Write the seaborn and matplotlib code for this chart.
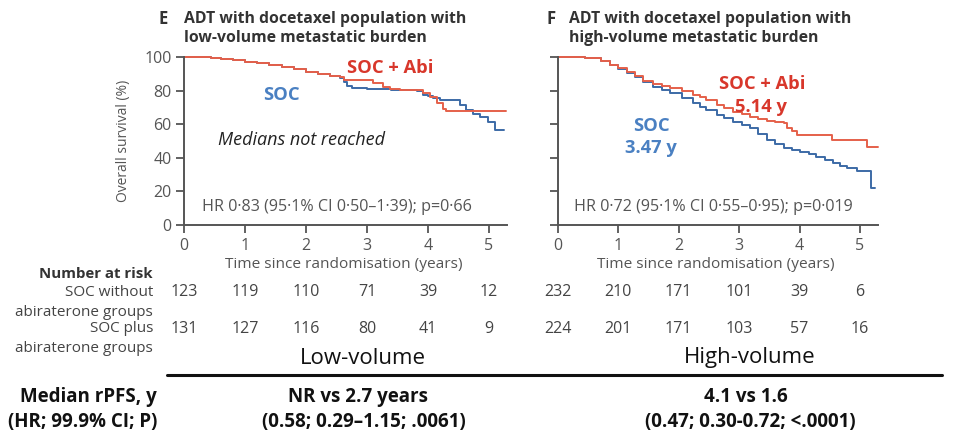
import numpy as np
import pandas as pd
import matplotlib
matplotlib.use("Agg")
import matplotlib.pyplot as plt
import seaborn as sns

# ---------------- data ----------------
low_soc_t = [0, 0.45, 0.6, 0.8, 1.0, 1.2, 1.4, 1.6, 1.8, 2.0, 2.2, 2.4, 2.55, 2.62, 2.68, 2.75,
             3.0, 3.4, 3.82, 3.92, 4.0, 4.08, 4.2, 4.52, 4.63, 4.74, 4.85, 4.98, 5.1, 5.25]
low_soc_s = [100, 99.4, 98.8, 98, 97.3, 96.3, 95.3, 94.2, 92.6, 91.2, 90, 88.8, 87.5, 85, 83, 81.4,
             80.8, 80.3, 80, 77.4, 76.5, 75.4, 74.6, 71.4, 68.5, 66, 64.5, 61.5, 56.5, 56.5]
low_abi_t = [0, 0.45, 0.6, 0.8, 1.0, 1.2, 1.4, 1.6, 1.8, 2.0, 2.2, 2.4, 2.55, 2.62, 3.1, 3.27,
             3.37, 3.54, 3.92, 4.03, 4.14, 4.25, 4.3, 5.28]
low_abi_s = [100, 99.5, 98.9, 98.1, 97.2, 96.2, 95.4, 94.0, 92.8, 91.0, 89.8, 88.6, 87.8, 86.5, 84.7, 82.3,
             80.8, 80.5, 78.8, 76.4, 72.8, 68.8, 68, 68]

high_soc_t = [0, 0.3, 0.45, 0.58, 0.72, 0.87, 1.0, 1.14, 1.28, 1.41, 1.58, 1.72, 1.86, 2.05, 2.24, 2.35,
              2.46, 2.63, 2.75, 2.9, 3.05, 3.18, 3.32, 3.46, 3.6, 3.74, 3.88, 4.01, 4.15, 4.28, 4.42,
              4.56, 4.67, 4.78, 4.95, 5.18, 5.25]
high_soc_s = [100, 99.8, 99.5, 99.2, 97.5, 95.2, 92.8, 90.3, 87.8, 85.3, 82.1, 80.3, 78.4, 75.5, 72.4, 70.5,
              68.5, 65.5, 63.5, 61.5, 59.5, 57.5, 54, 50.6, 48, 45.6, 44.5, 43.7, 42.2, 40.7, 38.7,
              36.7, 35.2, 33.7, 32.3, 21.8, 21.8]
high_abi_t = [0, 0.3, 0.45, 0.58, 0.72, 0.87, 1.0, 1.14, 1.28, 1.41, 1.58, 1.72, 1.86, 2.05, 2.24, 2.35,
              2.46, 2.63, 2.75, 2.9, 3.05, 3.18, 3.32, 3.46, 3.6, 3.74, 3.79, 3.87, 3.95, 4.53, 5.11, 5.3]
high_abi_s = [100, 99.8, 99.5, 99.2, 97.6, 95.4, 93.2, 90.8, 88.5, 86.0, 84.1, 82.8, 81.3, 79.5, 77.4, 76.2,
              74.4, 71.4, 69.5, 67.5, 66, 64.5, 63.2, 62.1, 61.5, 60.9, 58, 56, 53.6, 50.6, 46.6, 46.6]

risk_years = [0, 1, 2, 3, 4, 5]
low_risk_soc = [123, 119, 110, 71, 39, 12]
low_risk_abi = [131, 127, 116, 80, 41, 9]
high_risk_soc = [232, 210, 171, 101, 39, 6]
high_risk_abi = [224, 201, 171, 103, 57, 16]

y_ticks = [0, 20, 40, 60, 80, 100]
x_ticks = [0, 1, 2, 3, 4, 5]

# ---------------- style ----------------
sns.set_theme(style="ticks")
plt.rcParams["font.family"] = ["Open Sans", "DejaVu Sans"]

RED_LINE = "#e5604a"
BLUE_LINE = "#3c6aa6"
RED_TXT = "#d8372b"
BLUE_TXT = "#4a80c2"
GRAY = "#555555"
DARK = "#333333"

W, H = 962, 438
fig = plt.figure(figsize=(W / 100, H / 100), dpi=100)


def P(x, y):
    return x / W, 1 - y / H


XMAX = 5.3
ax_specs = [
    (184, 61.0),
    (557.7, 60.46),
]

palette = {"SOC": BLUE_LINE, "SOC + Abi": RED_LINE}
panels = [
    (low_soc_t, low_soc_s, low_abi_t, low_abi_s),
    (high_soc_t, high_soc_s, high_abi_t, high_abi_s),
]
axes = []
for i, ((x0, ppy), (st, ss, at, as_)) in enumerate(zip(ax_specs, panels)):
    left, bottom = P(x0, 225)
    width = XMAX * ppy / W
    height = (225 - 57) / H
    ax = fig.add_axes([left, bottom, width, height])
    df = pd.DataFrame({
        "t": list(st) + list(at),
        "s": list(ss) + list(as_),
        "g": ["SOC"] * len(st) + ["SOC + Abi"] * len(at),
    })
    sns.lineplot(data=df, x="t", y="s", hue="g", palette=palette, estimator=None,
                 sort=False, drawstyle="steps-post", linewidth=1.4, legend=False, ax=ax)
    ax.set_xlim(0, XMAX)
    ax.set_ylim(0, 100)
    ax.set_xticks(x_ticks)
    ax.set_yticks(y_ticks)
    ax.set_xlabel("")
    ax.set_ylabel("")
    for sp in ["top", "right"]:
        ax.spines[sp].set_visible(False)
    for sp in ["left", "bottom"]:
        ax.spines[sp].set_color("#555555")
        ax.spines[sp].set_linewidth(1.4)
    ax.tick_params(axis="both", direction="out", length=6, width=1.3, color="#555555",
                   labelcolor=GRAY, labelsize=11.5, pad=3)
    if i == 1:
        ax.tick_params(axis="y", labelleft=False)
    ax.patch.set_alpha(0)
    for line in ax.lines:
        line.set_clip_on(False)
    axes.append(ax)

axL, axR = axes

# y label
fig.text(*P(123, 141), "Overall survival (%)", rotation=90, ha="center", va="center",
         fontsize=10, color=GRAY, family=["Liberation Sans Narrow", "Open Sans", "DejaVu Sans"])

# titles
for letter, lx, tx, line2 in [("E", 159, 184, "low-volume metastatic burden"),
                              ("F", 547, 569, "high-volume metastatic burden")]:
    fig.text(*P(lx, 19), letter, fontsize=12, fontweight="bold", color=DARK, ha="left", va="center")
    fig.text(*P(tx, 19), "ADT with docetaxel population with",
             fontsize=11.3, fontweight="bold", color=DARK, ha="left", va="center")
    fig.text(*P(tx, 37.5), line2,
             fontsize=11.3, fontweight="bold", color=DARK, ha="left", va="center")

# annotations, left
axL.text(3.38, 93.5, "SOC + Abi", color=RED_TXT, fontsize=13.2, fontweight="bold", ha="center", va="center")
axL.text(1.59, 77.4, "SOC", color=BLUE_TXT, fontsize=13.2, fontweight="bold", ha="center", va="center")
axL.text(1.92, 50.6, "Medians not reached", color="#222222", fontsize=13, fontstyle="italic",
         ha="center", va="center")
axL.text(2.5, 10.7, "HR 0·83 (95·1% CI 0·50–1·39); p=0·66", color=GRAY, fontsize=11.6,
         ha="center", va="center")

# annotations, right
axR.text(3.39, 83.9, "SOC + Abi", color=RED_TXT, fontsize=13.2, fontweight="bold", ha="center", va="center")
axR.text(3.37, 70.4, "5.14 y", color=RED_TXT, fontsize=13.2, fontweight="bold", ha="center", va="center")
axR.text(1.55, 58.9, "SOC", color=BLUE_TXT, fontsize=13.2, fontweight="bold", ha="center", va="center")
axR.text(1.54, 45.8, "3.47 y", color=BLUE_TXT, fontsize=13.2, fontweight="bold", ha="center", va="center")
axR.text(2.57, 10.9, "HR 0·72 (95·1% CI 0·55–0·95); p=0·019", color=GRAY, fontsize=11.6,
         ha="center", va="center")

# x labels
for (x0, ppy) in ax_specs:
    fig.text(*P(x0 + 2.62 * ppy, 265), "Time since randomisation (years)", ha="center", va="center",
             fontsize=11.1, color=GRAY)

# number at risk
fig.text(*P(153, 274), "Number at risk", ha="right", va="center", fontsize=10.8, fontweight="bold", color=DARK)
row_labels = [("SOC without", 292), ("abiraterone groups", 312), ("SOC plus", 329), ("abiraterone groups", 348)]
for lab, yy in row_labels:
    fig.text(*P(153, yy), lab, ha="right", va="center", fontsize=11, color="#444444")

for (x0, ppy), soc_r, abi_r in zip(ax_specs, [low_risk_soc, high_risk_soc], [low_risk_abi, high_risk_abi]):
    for yr, a, b in zip(risk_years, soc_r, abi_r):
        fig.text(*P(x0 + yr * ppy, 292), str(a), ha="center", va="center", fontsize=11.5, color="#444444")
        fig.text(*P(x0 + yr * ppy, 329), str(b), ha="center", va="center", fontsize=11.5, color="#444444")

# bottom table
fig.text(*P(363, 358), "Low-volume", ha="center", va="center", fontsize=16, color="#111111")
fig.text(*P(750, 358), "High-volume", ha="center", va="center", fontsize=16, color="#111111")
fig.add_artist(plt.Line2D([167 / W, 942 / W], [1 - 375 / H, 1 - 375 / H], color="#111111", linewidth=2.2))
BT = dict(va="center", fontsize=13.5, fontweight="bold", color="#111111")
fig.text(*P(157, 397), "Median rPFS, y", ha="right", **BT)
fig.text(*P(157, 422), "(HR; 99.9% CI; P)", ha="right", **BT)
fig.text(*P(358, 397), "NR vs 2.7 years", ha="center", **BT)
fig.text(*P(364, 422), "(0.58; 0.29–1.15; .0061)", ha="center", **BT)
fig.text(*P(746, 397), "4.1 vs 1.6", ha="center", **BT)
fig.text(*P(750, 422), "(0.47; 0.30-0.72; <.0001)", ha="center", **BT)

fig.savefig("out.png", dpi=100, facecolor="white")
